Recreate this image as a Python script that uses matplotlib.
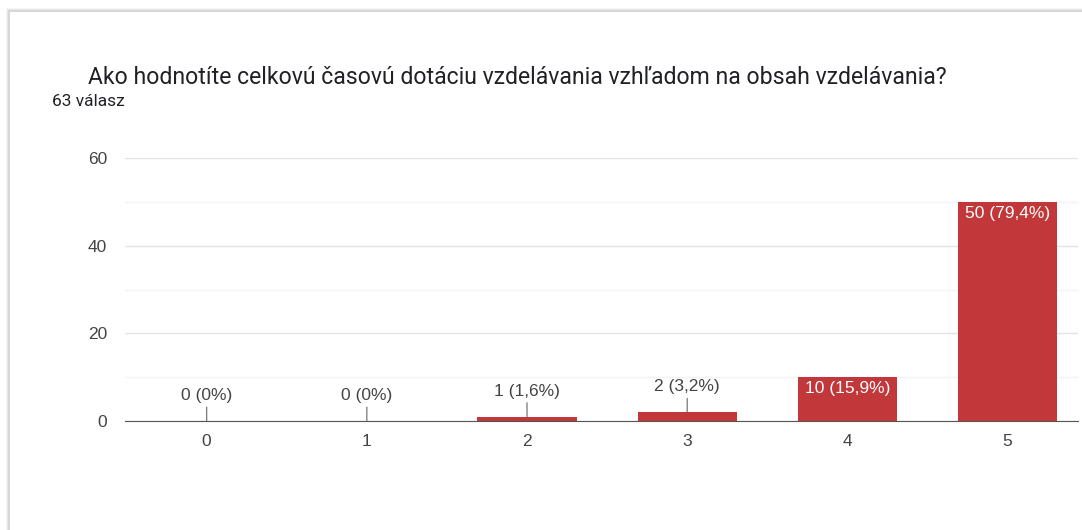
import matplotlib
matplotlib.use("Agg")
import matplotlib.pyplot as plt
from matplotlib.patches import Rectangle

plt.rcParams['font.family'] = ['Roboto', 'DejaVu Sans']
chart_font = ['Liberation Sans', 'DejaVu Sans']

# data
categories = ['0', '1', '2', '3', '4', '5']
counts = [0, 0, 1, 2, 10, 50]
labels = ['0 (0%)', '0 (0%)', '1 (1,6%)', '2 (3,2%)', '10 (15,9%)', '50 (79,4%)']
title = 'Ako hodnotíte celkovú časovú dotáciu vzdelávania vzhľadom na obsah vzdelávania?'
subtitle = '63 válasz'

W, H = 1082, 530
fig = plt.figure(figsize=(W / 100, H / 100), dpi=100)

# card background with light border / shadow
for i, c in enumerate(['#f4f4f4', '#e6e6e6', '#d2d2d2']):
    fig.add_artist(Rectangle(((10 - 3 + i) / W, -0.1), 1.2, (H - 12 + 3 - i) / H + 0.1,
                             transform=fig.transFigure, facecolor='white',
                             edgecolor=c, linewidth=1.2, zorder=-5))

fig.text(88 / W, 1 - 77 / H, title, fontsize=16.6, color='#202124', va='center', ha='left')
fig.text(52 / W, 1 - 102 / H, subtitle, fontsize=12.5, color='#202124', va='center', ha='left')

ax = fig.add_axes([125 / W, (H - 421) / H, (1078 - 125) / W, (421 - 158) / H])
ax.set_facecolor('none')
x = list(range(len(categories)))
ax.bar(x, counts, width=0.62, color='#c2383a', zorder=3)

ax.set_xlim(-0.51, 5.44)
ax.set_ylim(0, 60)
ax.set_yticks([0, 20, 40, 60])
ax.set_yticks([10, 30, 50], minor=True)
ax.set_xticks(x)
ax.set_xticklabels(categories)
ax.grid(axis='y', which='major', color='#e3e3e3', linewidth=1, zorder=0)
ax.grid(axis='y', which='minor', color='#f3f3f3', linewidth=1, zorder=0)
ax.tick_params(axis='both', which='both', length=0, labelsize=12.5, labelcolor='#444444')
ax.tick_params(axis='x', pad=9)
ax.tick_params(axis='y', pad=13)
for t in ax.get_xticklabels() + ax.get_yticklabels():
    t.set_family(chart_font)
for s in ['top', 'right', 'left']:
    ax.spines[s].set_visible(False)
ax.spines['bottom'].set_color('#555555')
ax.spines['bottom'].set_zorder(4)

for xi, v, lab in zip(x, counts, labels):
    if v >= 5:
        ax.annotate(lab, (xi, v), xytext=(0, -3), textcoords='offset points',
                    ha='center', va='top', fontsize=12.5, color='white', zorder=5,
                    family=chart_font)
    else:
        ax.annotate(lab, (xi, v), xytext=(0, 13), textcoords='offset points',
                    ha='center', va='bottom', fontsize=12.5, color='#444444', zorder=5,
                    family=chart_font,
                    arrowprops=dict(arrowstyle='-', color='#666666', lw=0.8,
                                    shrinkA=1, shrinkB=0))

fig.savefig('out.png', dpi=100)
